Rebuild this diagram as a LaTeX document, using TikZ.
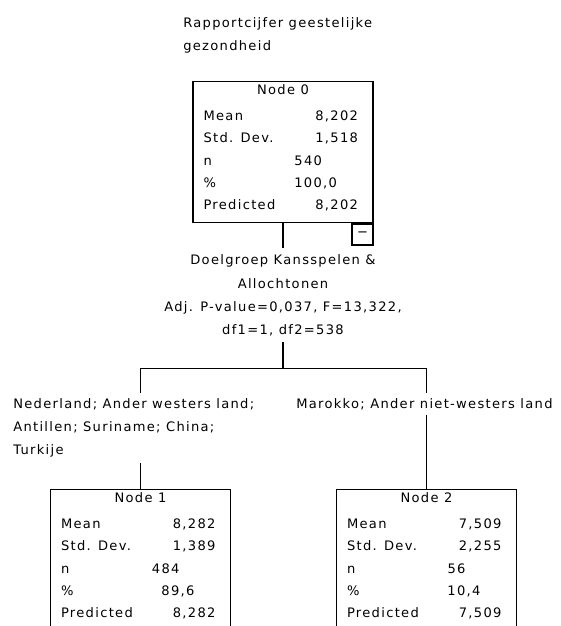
\documentclass[tikz,border=0pt]{standalone}
\usepackage{fontspec}
\newfontfamily\spss[LetterSpace=10]{DejaVu Sans}
\usetikzlibrary{positioning, calc}

\tikzset{
  tbox/.style={draw, line width=1.1pt, minimum width=135pt, minimum height=105.75pt, inner sep=0pt},
  cell/.style={inner sep=0pt, anchor=mid west,
               font={\spss\fontsize{9.8pt}{17.5pt}\selectfont}},
  lbl/.style={cell, align=left, inner ysep=3.75pt, fill=white},
  foldbox/.style={draw, line width=1pt, minimum size=15.75pt, inner sep=0pt,
                  font={\spss\fontsize{9.8pt}{17.5pt}\selectfont}},
  link/.style={line width=1pt},
}

% name, centre x, top y, title, mean, sd, n, %, predicted
\newcommand{\statbox}[9]{%
  \node[tbox, anchor=north] (#1) at (#2,#3) {};
  \node[cell, anchor=mid] (#1-title) at ($(#1.north)+(0,11)$) {#4};
  \node[cell] (#1-l1) at ($(#1.north west)+(11,37)$) {Mean};
  \node[cell] (#1-l2) at ($(#1.north west)+(11,59)$) {Std. Dev.};
  \node[cell] (#1-l3) at ($(#1.north west)+(11,82)$) {n};
  \node[cell] (#1-l4) at ($(#1.north west)+(11,104)$) {\%};
  \node[cell] (#1-l5) at ($(#1.north west)+(11,126)$) {Predicted};
  \node[cell, anchor=mid east] (#1-v1) at ($(#1.north west)+(166,37)$) {#5};
  \node[cell, anchor=mid east] (#1-v2) at ($(#1.north west)+(166,59)$) {#6};
  \node[cell, anchor=mid east] (#1-v3) at ($(#1.north west)+(130,82)$) {#7};
  \node[cell, anchor=mid east] (#1-v4) at ($(#1.north west)+(145,104)$) {#8};
  \node[cell, anchor=mid east] (#1-v5) at ($(#1.north west)+(166,126)$) {#9};
}

\begin{document}
\begin{tikzpicture}[x=0.75pt, y=-0.75pt]
\useasboundingbox (0,0) rectangle (561,626);
\clip (0,0) rectangle (561,626);

\node[cell, anchor=north west, align=left] (title) at (183,17)
  {Rapportcijfer geestelijke\\gezondheid};

% root
\statbox{n0}{283}{81}{Node 0}{8,202}{1,518}{540}{100,0}{8,202}
\node[foldbox, anchor=north east] (n0-fold) at (n0.south east) {−};

\node[cell, anchor=north, align=center, inner ysep=4.5pt] (split)
  at ($(n0.south)+(0,25)$)
  {Doelgroep Kansspelen \&\\Allochtonen\\Adj. P-value=0,037, F=13,322,\\df1=1, df2=538};
\coordinate (fork) at ($(n0.south)+(0,145)$);

% children
\statbox{n1}{140.5}{489}{Node 1}{8,282}{1,389}{484}{89,6}{8,282}
\statbox{n2}{426.5}{489}{Node 2}{7,509}{2,255}{56}{10,4}{7,509}

\node[lbl, anchor=north west] (lblL) at (13,393)
  {Nederland; Ander westers land;\\Antillen; Suriname; China;\\Turkije};
\node[lbl, anchor=north west] (lblR) at (296,393)
  {Marokko; Ander niet-westers land};

\coordinate (forkL) at (n1.north |- fork);
\coordinate (forkR) at (n2.north |- fork);

\draw[link] (n0.south) -- (split.north);
\draw[link] (split.south) -- (fork);
\draw[link] (forkL |- lblL.north) -- (forkL) -- (forkR) -- (forkR |- lblR.north);
\draw[link] (lblL.south -| forkL) -- (n1.north);
\draw[link] (lblR.south -| forkR) -- (n2.north);
\end{tikzpicture}
\end{document}
